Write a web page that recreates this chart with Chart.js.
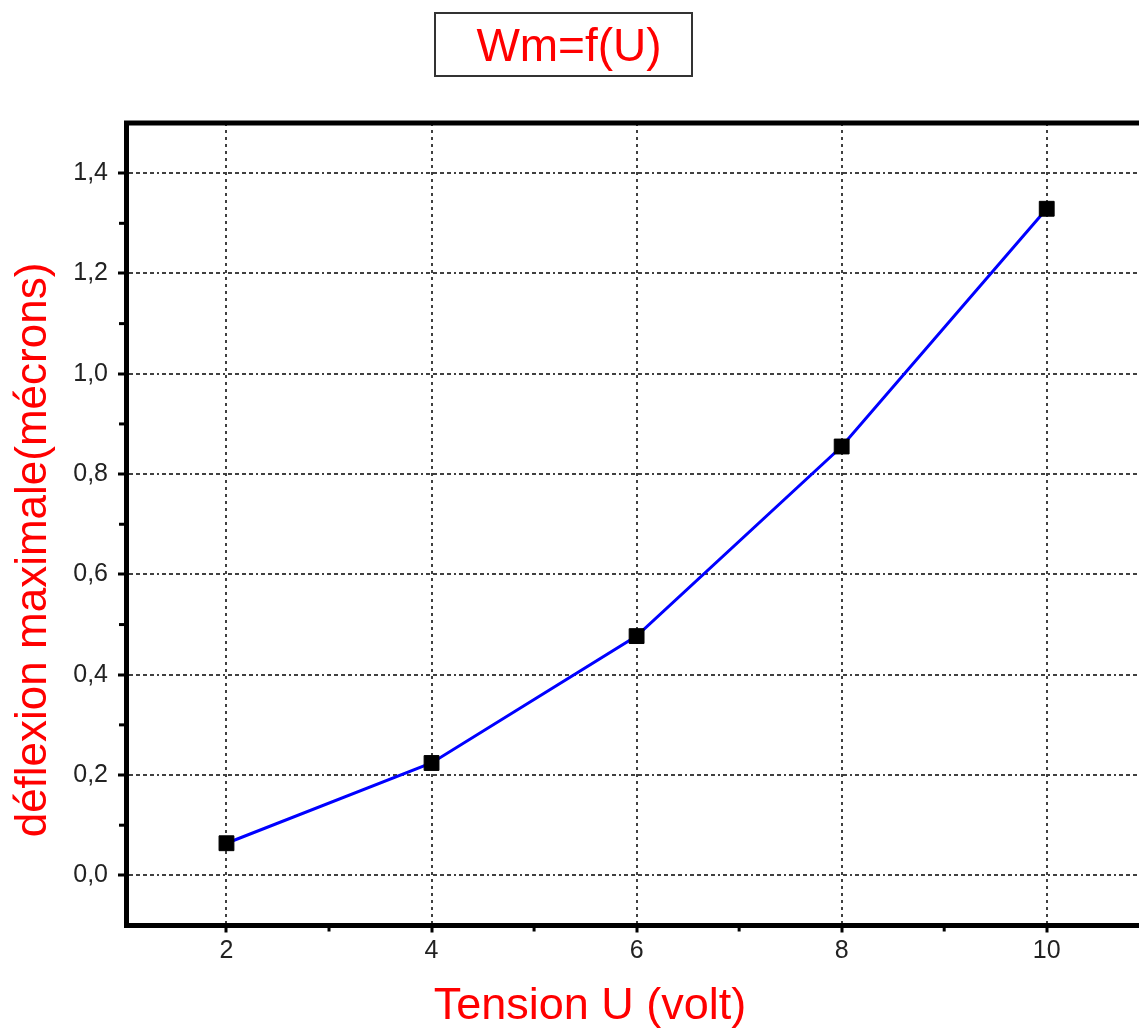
<!DOCTYPE html>
<html>
<head>
<meta charset="utf-8">
<title>Wm=f(U)</title>
<script src="https://cdn.jsdelivr.net/npm/chart.js@4.4.1/dist/chart.umd.min.js"></script>
<style>
  html, body { margin: 0; padding: 0; background: #fff; overflow: hidden; }
  canvas { display: block; }
</style>
</head>
<body>
<canvas id="myChart" width="1139" height="1030"></canvas>
<script>
// data
var tension = [2, 4, 6, 8, 10];
var deflexion = [0.064, 0.224, 0.477, 0.855, 1.329];

// axis ticks
var xTicks = [2, 4, 6, 8, 10];
var xTickLabels = ["2", "4", "6", "8", "10"];
var xMinor = [3, 5, 7, 9];
var yTicks = [0, 0.2, 0.4, 0.6, 0.8, 1.0, 1.2, 1.4];
var yTickLabels = ["0,0", "0,2", "0,4", "0,6", "0,8", "1,0", "1,2", "1,4"];
var yMinor = [0.1, 0.3, 0.5, 0.7, 0.9, 1.1, 1.3];

var titleText = "Wm=f(U)";
var xTitle = "Tension U (volt)";
var yTitle = "déflexion maximale(mécrons)";

var tickFont = { family: "'Liberation Sans', Arial, sans-serif", size: 25 };
var titleFamily = "'Liberation Sans', Arial, sans-serif";

// extra drawing: title box, axis titles, minor ticks, top frame
var decor = {
  id: "decor",
  afterDraw: function (chart) {
    var ctx = chart.ctx;
    var a = chart.chartArea;
    var xs = chart.scales.x, ys = chart.scales.y;
    ctx.save();

    // top frame line
    ctx.strokeStyle = "#000";
    ctx.lineWidth = 5;
    ctx.beginPath();
    ctx.moveTo(a.left - 2, a.top);
    ctx.lineTo(a.right, a.top);
    ctx.stroke();

    // minor ticks
    ctx.lineWidth = 3;
    xMinor.forEach(function (v) {
      var px = xs.getPixelForValue(v);
      ctx.beginPath();
      ctx.moveTo(px, a.bottom);
      ctx.lineTo(px, a.bottom + 6);
      ctx.stroke();
    });
    yMinor.forEach(function (v) {
      var py = ys.getPixelForValue(v);
      ctx.beginPath();
      ctx.moveTo(a.left, py);
      ctx.lineTo(a.left - 7, py);
      ctx.stroke();
    });

    // title box
    ctx.strokeStyle = "#333";
    ctx.lineWidth = 2;
    ctx.strokeRect(435, 13, 257, 63);
    ctx.fillStyle = "#ff0000";
    ctx.font = "46px " + titleFamily;
    ctx.textAlign = "center";
    ctx.textBaseline = "alphabetic";
    ctx.fillText(titleText, 569, 61);

    // x axis title
    ctx.font = "45px " + titleFamily;
    ctx.fillText(xTitle, 590, 1019);

    // y axis title
    ctx.translate(34, 550);
    ctx.rotate(-Math.PI / 2);
    ctx.font = "44px " + titleFamily;
    ctx.textBaseline = "middle";
    ctx.fillText(yTitle, 0, 0);

    ctx.restore();
  }
};

new Chart("myChart", {
  type: "scatter",
  data: {
    datasets: [{
      data: tension.map(function (u, i) { return { x: u, y: deflexion[i] }; }),
      showLine: true,
      borderColor: "#0000ff",
      borderWidth: 3,
      pointStyle: "rect",
      pointRadius: 10.5,
      pointBackgroundColor: "#000",
      pointBorderColor: "#000",
      pointBorderWidth: 1
    }]
  },
  plugins: [decor],
  options: {
    responsive: false,
    animation: false,
    devicePixelRatio: 1,
    layout: { autoPadding: false, padding: { top: 123, right: 0, left: 0, bottom: 0 } },
    plugins: {
      legend: { display: false },
      tooltip: { enabled: false },
      title: { display: false }
    },
    scales: {
      x: {
        type: "linear",
        min: 1.02,
        max: 10.9,
        afterBuildTicks: function (scale) {
          scale.ticks = xTicks.map(function (v) { return { value: v }; });
        },
        afterFit: function (scale) {
          scale.height = 104.5;
          scale.paddingLeft = 0;
          scale.paddingRight = 0;
        },
        ticks: {
          font: tickFont,
          color: "#222",
          padding: 4,
          maxRotation: 0,
          callback: function (v, i) { return xTickLabels[i]; }
        },
        grid: {
          color: "rgba(0,0,0,0.75)",
          lineWidth: 2,
          tickLength: 7,
          tickWidth: 3,
          tickColor: "#000"
        },
        border: { display: true, color: "#000", width: 5, dash: [3, 4] }
      },
      y: {
        type: "linear",
        min: -0.1,
        max: 1.5,
        afterBuildTicks: function (scale) {
          scale.ticks = yTicks.map(function (v) { return { value: v }; });
        },
        afterFit: function (scale) {
          scale.width = 126;
          scale.paddingTop = 0;
          scale.paddingBottom = 0;
        },
        ticks: {
          font: tickFont,
          color: "#222",
          padding: 10,
          callback: function (v, i) { return yTickLabels[i]; }
        },
        grid: {
          color: "rgba(0,0,0,0.75)",
          lineWidth: 2,
          tickLength: 8,
          tickWidth: 3,
          tickColor: "#000"
        },
        border: { display: true, color: "#000", width: 5, dash: [4, 3, 4, 3, 4, 3, 4, 3, 2, 3] }
      }
    }
  }
});
</script>
</body>
</html>
